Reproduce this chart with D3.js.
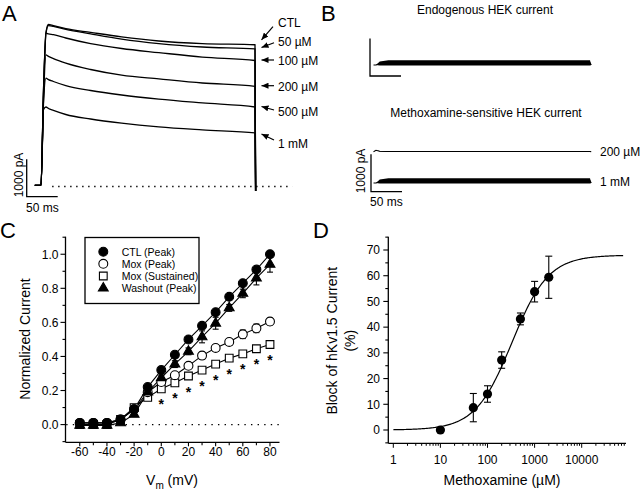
<!DOCTYPE html>
<html><head><meta charset="utf-8">
<script src="https://cdn.jsdelivr.net/npm/d3@7"></script>
<style>
body{margin:0;background:#fff}
text{font-family:"Liberation Sans",Arial,sans-serif;fill:#000}
</style>
</head><body>
<svg id="fig" width="640" height="491"></svg>
<script>
// ---------- Panel A: hKv1.5 current traces (time ms, current pA) ----------
const aTime   = [-10, 0, 4, 8, 12, 20, 40, 80, 130, 190, 260, 345, 346];
const aCTL    = [30, 30, 2560, 4110, 4320, 4290, 4210, 4110, 3990, 3880, 3810, 3780, -120];
const a50uM   = [30, 30, 2540, 4080, 4290, 4270, 4190, 4070, 3930, 3810, 3720, 3670, -120];
const a100uM  = [30, 30, 2450, 4090, 4070, 4050, 3960, 3810, 3680, 3570, 3450, 3360, -120];
const a200uM  = [30, 30, 2300, 3510, 3470, 3410, 3290, 3120, 2970, 2870, 2760, 2670, -120];
const a500uM  = [30, 30, 2200, 2890, 2850, 2800, 2690, 2560, 2440, 2330, 2230, 2120, -120];
const a1mM    = [30, 30, 2050, 2120, 2080, 2030, 1920, 1800, 1690, 1590, 1510, 1430, -120];
const aLabels = ["CTL", "50 µM", "100 µM", "200 µM", "500 µM", "1 mM"];

// ---------- Panel B: HEK currents (time ms, mean pA, noise half-width pA) ----------
const bTime      = [-4, 0, 6, 20, 340, 345, 347];
const bEndo      = [0, 0, 40, 60, 60, 60, 0];
const bEndoNoise = [0, 0, 55, 70, 70, 70, 0];
const b200       = [0, 40, 15, 10, 10, 10, 0];
const b200Noise  = [0, 0, 8, 12, 12, 12, 0];
const b1mM       = [0, 0, 40, 60, 60, 60, 0];
const b1mMNoise  = [0, 0, 55, 70, 70, 70, 0];
const bLabels    = ["200 µM", "1 mM"];

// ---------- Panel C: I-V relations ----------
const vm          = [-60, -50, -40, -30, -20, -10, 0, 10, 20, 30, 40, 50, 60, 70, 80];
const ctlPeak     = [0.01, 0.01, 0.01, 0.03, 0.09, 0.22, 0.32, 0.41, 0.50, 0.58, 0.66, 0.75, 0.83, 0.91, 1.00];
const moxPeak     = [0.01, 0.01, 0.01, 0.03, 0.09, 0.19, 0.25, 0.29, 0.345, 0.405, 0.45, 0.485, 0.53, 0.565, 0.605];
const moxSus      = [0.0, 0.0, 0.0, 0.03, 0.10, 0.16, 0.21, 0.245, 0.285, 0.32, 0.355, 0.39, 0.415, 0.445, 0.47];
const washPeak    = [-0.005, -0.005, -0.005, 0.01, 0.06, 0.19, 0.275, 0.355, 0.43, 0.515, 0.595, 0.685, 0.77, 0.86, 0.94];
const moxPeakErr  = [0, 0, 0, 0, 0.01, 0.01, 0.01, 0.015, 0.015, 0.02, 0.02, 0.02, 0.025, 0.025, 0.02];
const moxSusErr   = [0, 0, 0, 0, 0.01, 0.01, 0.01, 0.01, 0.01, 0.015, 0.015, 0.015, 0.015, 0.015, 0.015];
const washErr     = [0, 0, 0, 0, 0.01, 0.02, 0.015, 0.02, 0.02, 0.035, 0.035, 0.02, 0.025, 0.04, 0.045];
const sigVm       = [0, 10, 20, 30, 40, 50, 60, 70, 80];
const cLegend     = ["CTL (Peak)", "Mox (Peak)", "Mox (Sustained)", "Washout (Peak)"];
const cXTicks     = [-60, -40, -20, 0, 20, 40, 60, 80];
const cYTicks     = [0.0, 0.2, 0.4, 0.6, 0.8, 1.0];

// ---------- Panel D: concentration-response ----------
const conc      = [10, 50, 100, 200, 500, 1000, 2000];
const block     = [0, 8.7, 14.0, 27.2, 43.2, 53.8, 59.4];
const blockErr  = [0, 5.5, 3.2, 3.2, 2.3, 4.0, 8.2];
const hillTop = 68, hillIC50 = 330, hillN = 1.12;   // fitted Hill curve parameters
const dXTicks   = [1, 10, 100, 1000, 10000];
const dYTicks   = [0, 10, 20, 30, 40, 50, 60, 70];

const svg = d3.select("#fig");

// panel letters
[["A",2,21],["B",321,21],["C",0,238],["D",313,238]].forEach(([t,x,y])=>
  svg.append("text").attr("x",x).attr("y",y).attr("font-size",22).text(t));

// ================= Panel A =================
const xA = d3.scaleLinear().domain([0, 345]).range([41, 255]);
const yA = d3.scaleLinear().domain([0, 1000]).range([186.5, 149]);
const gA = svg.append("g");
gA.append("line").attr("x1", xA(18)).attr("x2", xA(405)).attr("y1", yA(0)).attr("y2", yA(0))
  .attr("stroke","#000").attr("stroke-width",1.3).attr("stroke-dasharray","1.4,4.6");
const lineA = d3.line().x((d,i)=>xA(aTime[i])).y(d=>yA(d)).curve(d3.curveMonotoneX);
[aCTL, a50uM, a100uM, a200uM, a500uM, a1mM].forEach(s=>{
  gA.append("path").attr("d", lineA(s)).attr("fill","none").attr("stroke","#000").attr("stroke-width",1.3);
});
// scale bar A
const sbAx = 26.7, sbAy = 196.7;
{
  const p = d3.path(); p.moveTo(sbAx, sbAy-(yA(0)-yA(1000))); p.lineTo(sbAx, sbAy); p.lineTo(sbAx + (xA(50)-xA(0)), sbAy);
  gA.append("path").attr("d", p.toString()).attr("fill","none").attr("stroke","#000").attr("stroke-width",1.3);
}
gA.append("text").attr("transform",`translate(23,175) rotate(-90)`).attr("text-anchor","middle")
  .attr("font-size",12).text("1000 pA");
gA.append("text").attr("x",26).attr("y",212).attr("font-size",12).text("50 ms");
// arrow marker
const defs = svg.append("defs");
defs.append("marker").attr("id","ah").attr("markerUnits","userSpaceOnUse")
  .attr("markerWidth",8).attr("markerHeight",6).attr("refX",7).attr("refY",3).attr("orient","auto")
  .append("path").attr("d","M0,0 L7,3 L0,6 Z").attr("fill","#000");
const aLabY = [27, 46, 65, 90.5, 116, 148];
const aArrows = [[273,26.7,261.5,39.8],[274,42.7,261.5,47.5],[274,60,261.5,60],[274,85.7,261.5,85.7],[274,110,261.5,106.5],[274,140,261.5,134]];
aLabels.forEach((t,i)=>{
  gA.append("text").attr("x",278).attr("y",aLabY[i]).attr("font-size",12).text(t);
  const a = aArrows[i];
  gA.append("line").attr("x1",a[0]).attr("y1",a[1]).attr("x2",a[2]).attr("y2",a[3])
    .attr("stroke","#000").attr("stroke-width",1.2).attr("marker-end","url(#ah)");
});

// ================= Panel B =================
const xB = d3.scaleLinear().domain([0, 345]).range([376, 590]);
const pxPerPA = (yA(0)-yA(1000))/1000;
function drawHEK(base, mean, noise){
  const area = d3.area().x((d,i)=>xB(bTime[i]))
    .y0((d,i)=>base - (mean[i]-noise[i])*pxPerPA).y1((d,i)=>base - (mean[i]+noise[i])*pxPerPA);
  svg.append("path").attr("d", area(mean)).attr("fill","#000");
  const ln = d3.line().x((d,i)=>xB(bTime[i])).y(d=>base - d*pxPerPA);
  svg.append("path").attr("d", ln(mean)).attr("fill","none").attr("stroke","#000").attr("stroke-width",1.1);
}
svg.append("text").attr("x",485).attr("y",14).attr("text-anchor","middle").attr("font-size",12).text("Endogenous HEK current");
svg.append("text").attr("x",486).attr("y",117).attr("text-anchor","middle").attr("font-size",12).text("Methoxamine-sensitive HEK current");
drawHEK(65, bEndo, bEndoNoise);
drawHEK(151.8, b200, b200Noise);
drawHEK(183, b1mM, b1mMNoise);
function scaleBar(x, y){
  const p = d3.path(); p.moveTo(x, y-1000*pxPerPA); p.lineTo(x, y); p.lineTo(x + (xB(50)-xB(0)), y);
  svg.append("path").attr("d", p.toString()).attr("fill","none").attr("stroke","#000").attr("stroke-width",1.3);
}
scaleBar(370, 76);
scaleBar(371, 191.7);
svg.append("text").attr("transform","translate(365,171) rotate(-90)").attr("text-anchor","middle").attr("font-size",12).text("1000 pA");
svg.append("text").attr("x",370).attr("y",206).attr("font-size",12).text("50 ms");
svg.append("text").attr("x",600).attr("y",155.5).attr("font-size",12).text(bLabels[0]);
svg.append("text").attr("x",600).attr("y",186).attr("font-size",12).text(bLabels[1]);

// ================= Panel C =================
const xC = d3.scaleLinear().domain([-70.5, 87]).range([65.5, 279.5]);
const yC = d3.scaleLinear().domain([-0.104, 1.103]).range([442.3, 236.7]);
const gC = svg.append("g");
gC.append("line").attr("x1",xC.range()[0]).attr("x2",xC.range()[0]).attr("y1",yC.range()[0]).attr("y2",yC.range()[1]).attr("stroke","#000").attr("stroke-width",1.3);
gC.append("line").attr("x1",xC.range()[0]).attr("x2",xC.range()[1]).attr("y1",yC.range()[0]).attr("y2",yC.range()[0]).attr("stroke","#000").attr("stroke-width",1.3);
d3.range(-60, 81, 10).forEach(v=>{
  gC.append("line").attr("x1",xC(v)).attr("x2",xC(v)).attr("y1",yC.range()[0]).attr("y2",yC.range()[0]+(v%20===0?4:3)).attr("stroke","#000").attr("stroke-width",1.1);
});
cXTicks.forEach(v=>gC.append("text").attr("x",xC(v)).attr("y",456).attr("text-anchor","middle").attr("font-size",12).text(v));
d3.range(-1, 12).map(k=>k/10).forEach(v=>{
  const major = Math.round(v*10)%2===0;
  gC.append("line").attr("x1",xC.range()[0]).attr("x2",xC.range()[0]-(major?5:3)).attr("y1",yC(v)).attr("y2",yC(v)).attr("stroke","#000").attr("stroke-width",1.1);
});
cYTicks.forEach(v=>gC.append("text").attr("x",58.5).attr("y",yC(v)+4.3).attr("text-anchor","end").attr("font-size",12).text(d3.format(".1f")(v)));
gC.append("text").attr("transform","translate(30,339) rotate(-90)").attr("text-anchor","middle").attr("font-size",14).text("Normalized Current");
const vl = gC.append("text").attr("x",172).attr("y",485).attr("text-anchor","middle").attr("font-size",14);
vl.append("tspan").text("V");
vl.append("tspan").attr("font-size",10).attr("dy",4).text("m");
vl.append("tspan").attr("dy",-4).text(" (mV)");
gC.append("line").attr("x1",xC(-70)).attr("x2",xC(87)).attr("y1",yC(0)).attr("y2",yC(0))
  .attr("stroke","#000").attr("stroke-width",1.2).attr("stroke-dasharray","1.4,5.2");
const lineC = d3.line().x((d,i)=>xC(vm[i])).y(d=>yC(d));
[moxSus, moxPeak, washPeak, ctlPeak].forEach(s=>gC.append("path").attr("d",lineC(s)).attr("fill","none").attr("stroke","#000").attr("stroke-width",1.1));
function errBars(g, xs, ys, es, xs_, ys_){
  ys.forEach((v,i)=>{
    if(!es[i]) return;
    const x = xs_(xs[i]), y1 = ys_(v-es[i]), y2 = ys_(v+es[i]);
    g.append("line").attr("x1",x).attr("x2",x).attr("y1",y1).attr("y2",y2).attr("stroke","#000").attr("stroke-width",1.1);
    [y1,y2].forEach(y=>g.append("line").attr("x1",x-3).attr("x2",x+3).attr("y1",y).attr("y2",y).attr("stroke","#000").attr("stroke-width",1.1));
  });
}
errBars(gC, vm, moxSus, moxSusErr, xC, yC);
errBars(gC, vm, moxPeak, moxPeakErr, xC, yC);
errBars(gC, vm, washPeak, washErr, xC, yC);
const sq = d3.symbol().type(d3.symbolSquare).size(60)();
const ci = d3.symbol().type(d3.symbolCircle).size(62)();
const tr = d3.symbol().type(d3.symbolTriangle).size(42)();
function drawSym(g, path, xs, ys, fill){
  ys.forEach((v,i)=>g.append("path").attr("d",path).attr("transform",`translate(${xC(xs[i])},${yC(v)})`)
    .attr("fill",fill).attr("stroke","#000").attr("stroke-width",1.1));
}
drawSym(gC, sq, vm, moxSus, "#fff");
drawSym(gC, ci, vm, moxPeak, "#fff");
drawSym(gC, tr, vm, washPeak, "#000");
drawSym(gC, ci, vm, ctlPeak, "#000");
sigVm.forEach(v=>{
  const i = vm.indexOf(v);
  gC.append("text").attr("x",xC(v)).attr("y",yC(moxSus[i])+20.5).attr("text-anchor","middle")
    .attr("font-size",14).attr("font-weight","bold").text("*");
});
gC.append("rect").attr("x",85).attr("y",237.5).attr("width",114).attr("height",66).attr("fill","#fff").attr("stroke","#000").attr("stroke-width",1.3);
const legSyms = [[ci,"#000"],[ci,"#fff"],[sq,"#fff"],[tr,"#000"]];
const legY = [251.7, 263.8, 276, 288.2];
cLegend.forEach((t,i)=>{
  gC.append("path").attr("d",legSyms[i][0]).attr("transform",`translate(103.3,${legY[i]})`).attr("fill",legSyms[i][1]).attr("stroke","#000").attr("stroke-width",1.1);
  gC.append("text").attr("x",121.7).attr("y",legY[i]+3.8).attr("font-size",10.5).text(t);
});

// ================= Panel D =================
const xD = d3.scaleLog().domain([1, 10000]).range([393.3, 581.7]);
const yD = d3.scaleLinear().domain([0, 70]).range([430, 250]);
const gD = svg.append("g");
const dX0 = 388.3, dX1 = 626, dY0 = 443.3, dY1 = 236.7;
gD.append("line").attr("x1",dX0).attr("x2",dX0).attr("y1",dY0).attr("y2",dY1).attr("stroke","#000").attr("stroke-width",1.3);
gD.append("line").attr("x1",dX0).attr("x2",dX1).attr("y1",dY0).attr("y2",dY0).attr("stroke","#000").attr("stroke-width",1.3);
for(let k=0;k<=4;k++){
  for(let m=1;m<=9;m++){
    const v = m*Math.pow(10,k), x = xD(v);
    if(x > dX1) continue;
    gD.append("line").attr("x1",x).attr("x2",x).attr("y1",dY0).attr("y2",dY0+(m===1?4.5:2.5)).attr("stroke","#000").attr("stroke-width",1);
  }
}
dXTicks.forEach(v=>gD.append("text").attr("x",xD(v)).attr("y",464).attr("text-anchor","middle").attr("font-size",12).text(v));
d3.range(-5, 76, 5).forEach(v=>{
  const major = v%10===0;
  gD.append("line").attr("x1",dX0).attr("x2",dX0-(major?5:3)).attr("y1",yD(v)).attr("y2",yD(v)).attr("stroke","#000").attr("stroke-width",1.1);
});
dYTicks.forEach(v=>gD.append("text").attr("x",380).attr("y",yD(v)+4.3).attr("text-anchor","end").attr("font-size",12).text(v));
gD.append("text").attr("transform","translate(337,340.7) rotate(-90)").attr("text-anchor","middle").attr("font-size",14).text("Block of hKv1.5 Current");
gD.append("text").attr("transform","translate(354.5,340.7) rotate(-90)").attr("text-anchor","middle").attr("font-size",14).text("(%)");
gD.append("text").attr("x",502).attr("y",485).attr("text-anchor","middle").attr("font-size",14).text("Methoxamine (µM)");
const hill = c => hillTop/(1+Math.pow(hillIC50/c, hillN));
const cMax = xD.invert(dX1-2);
const curvePts = d3.range(0, Math.log10(cMax)+1e-9, 0.02).map(e=>Math.pow(10,e));
gD.append("path").attr("d", d3.line().x(c=>xD(c)).y(c=>yD(hill(c)))(curvePts)).attr("fill","none").attr("stroke","#000").attr("stroke-width",1.2);
block.forEach((v,i)=>{
  if(!blockErr[i]) return;
  const x = xD(conc[i]), y1 = yD(v-blockErr[i]), y2 = yD(v+blockErr[i]);
  gD.append("line").attr("x1",x).attr("x2",x).attr("y1",y1).attr("y2",y2).attr("stroke","#000").attr("stroke-width",1.1);
  [y1,y2].forEach(y=>gD.append("line").attr("x1",x-3.5).attr("x2",x+3.5).attr("y1",y).attr("y2",y).attr("stroke","#000").attr("stroke-width",1.1));
});
block.forEach((v,i)=>gD.append("circle").attr("cx",xD(conc[i])).attr("cy",yD(v)).attr("r",4.6).attr("fill","#000"));
</script>
</body></html>
